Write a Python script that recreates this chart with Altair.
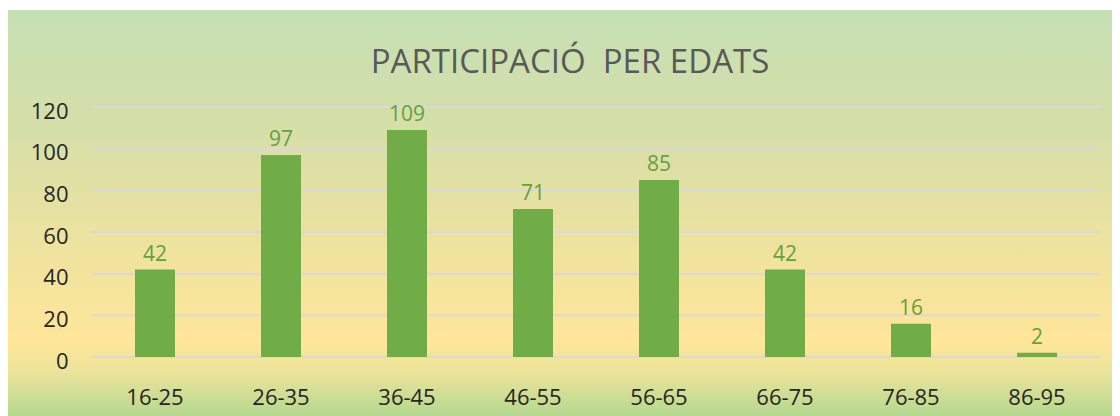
import altair as alt
import pandas as pd

categories = ["16-25", "26-35", "36-45", "46-55", "56-65", "66-75", "76-85", "86-95"]
values = [42, 97, 109, 71, 85, 42, 16, 2]
y_ticks = [0, 20, 40, 60, 80, 100, 120]
title_text = "PARTICIPACIÓ\u00a0 PER EDATS"

df = pd.DataFrame({"edat": categories, "n": values})
grid_df = pd.DataFrame({"tick": y_ticks})

FONT = "Open Sans"

gradient = alt.LinearGradient(
    gradient="linear",
    x1=0, x2=0, y1=0, y2=1,
    stops=[
        alt.GradientStop(color="#C5E0B4", offset=0.0),
        alt.GradientStop(color="#D6DFA8", offset=0.3),
        alt.GradientStop(color="#EFE39E", offset=0.6),
        alt.GradientStop(color="#FFE699", offset=0.82),
        alt.GradientStop(color="#E8E39A", offset=0.9),
        alt.GradientStop(color="#B4D88F", offset=1.0),
    ],
)

y_scale = alt.Scale(domain=[0, 120], nice=False)

bg = alt.Chart(alt.Data(values=[{}])).mark_rect(fill=gradient, stroke=None).encode(
    x=alt.value(-84), x2=alt.value(1020), y=alt.value(-97), y2=alt.value(309)
)

grid = alt.Chart(grid_df).mark_rule(color="#D9D9D9", strokeWidth=2).encode(
    y=alt.Y("tick:Q", scale=y_scale), x=alt.value(0), x2=alt.value(1008)
)

x_enc = alt.X(
    "edat:N",
    sort=categories,
    title=None,
    scale=alt.Scale(paddingInner=0.683, paddingOuter=0.3415),
    axis=alt.Axis(labelAngle=0, labelFontSize=22, labelFont=FONT, labelColor="#262626",
                  labelPadding=30, domain=False, ticks=False, grid=False, zindex=1),
)
y_enc = alt.Y(
    "n:Q",
    title=None,
    scale=y_scale,
    axis=alt.Axis(values=y_ticks, labelFontSize=22, labelFont=FONT, labelColor="#262626",
                  labelPadding=24, labelOffset=4, domain=False, ticks=False,
                  grid=False, zindex=1),
)

bars = alt.Chart(df).mark_bar(color="#70AD47", size=40).encode(x=x_enc, y=y_enc)
labels = alt.Chart(df).mark_text(
    color="#66A03F", fontSize=21, font=FONT, baseline="alphabetic", dy=-9
).encode(x=alt.X("edat:N", sort=categories), y="n:Q", text="n:Q")

chart = alt.layer(bg, grid, bars, labels).properties(
    width=1008,
    height=250,
    padding={"left": 0, "top": 2, "right": 0, "bottom": 0},
    title=alt.TitleParams(
        text=title_text, fontSize=33, font=FONT, fontWeight="normal", color="#595959",
        anchor="middle", frame="group", dx=-26, offset=-70,
    ),
).configure(background="white").configure_view(stroke=None)

chart.save("out.html", embed_options={"renderer": "svg", "actions": False})
